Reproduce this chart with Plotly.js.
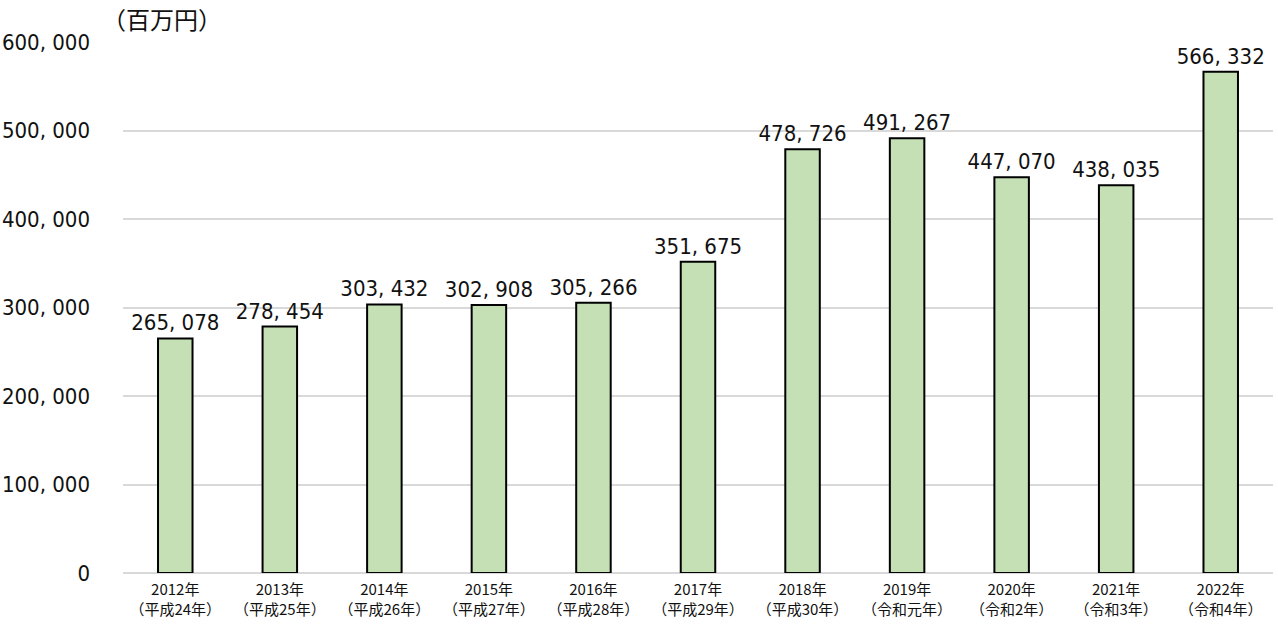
<!DOCTYPE html>
<html><head><meta charset="utf-8">
<script src="https://cdn.plot.ly/plotly-3.0.1.min.js"></script>
<style>html,body{margin:0;padding:0;background:#fff;}</style>
</head><body>
<div id="chart" style="width:1278px;height:624px;"></div>
<script>
const years = ["2012年","2013年","2014年","2015年","2016年","2017年","2018年","2019年","2020年","2021年","2022年"];
const eras = ["（平成24年）","（平成25年）","（平成26年）","（平成27年）","（平成28年）","（平成29年）","（平成30年）","（令和元年）","（令和2年）","（令和3年）","（令和4年）"];
const values = [265078, 278454, 303432, 302908, 305266, 351675, 478726, 491267, 447070, 438035, 566332];
const yTicks = [0, 100000, 200000, 300000, 400000, 500000, 600000];
const unitLabel = "（百万円）";

const fmt = v => v.toLocaleString("en-US").replace(/,/g, ", ");
const cats = years.map((y, i) => y + "<br>" + eras[i]);
const FONT = "'DejaVu Sans Condensed', 'Noto Sans CJK JP', sans-serif";
const CJK = "'Noto Sans CJK JP', sans-serif";

Plotly.newPlot("chart", [{
  type: "bar",
  x: cats,
  y: values,
  text: values.map(fmt),
  textposition: "outside",
  constraintext: "none",
  cliponaxis: false,
  textfont: {family: FONT, size: 22, color: "#111"},
  marker: {color: "#c5e0b4", line: {color: "#000", width: 2}},
  width: 0.33,
  hoverinfo: "skip"
}], {
  width: 1278, height: 624,
  margin: {l: 123, r: 5, t: 42, b: 51},
  paper_bgcolor: "#fff", plot_bgcolor: "#fff",
  showlegend: false,
  bargap: 0.67,
  xaxis: {
    tickfont: {family: CJK, size: 15, color: "#111"},
    showgrid: false, showline: false, zeroline: false, ticks: "",
    ticklabelstandoff: 6
  },
  yaxis: {
    range: [0, 600000],
    tickvals: yTicks,
    ticktext: yTicks.map(fmt),
    tickfont: {family: FONT, size: 22, color: "#111"},
    gridcolor: "#d9d9d9", gridwidth: 2,
    zeroline: true, zerolinecolor: "#d9d9d9", zerolinewidth: 2,
    showline: false, ticks: "",
    ticklabelstandoff: 32
  },
  annotations: [{
    text: unitLabel, xref: "paper", yref: "paper",
    x: -0.02, y: 1.0, xanchor: "left", yanchor: "bottom", yshift: 4,
    showarrow: false, font: {family: CJK, size: 24, color: "#111"}
  }]
}, {displayModeBar: false, staticPlot: true});
</script>
</body></html>
